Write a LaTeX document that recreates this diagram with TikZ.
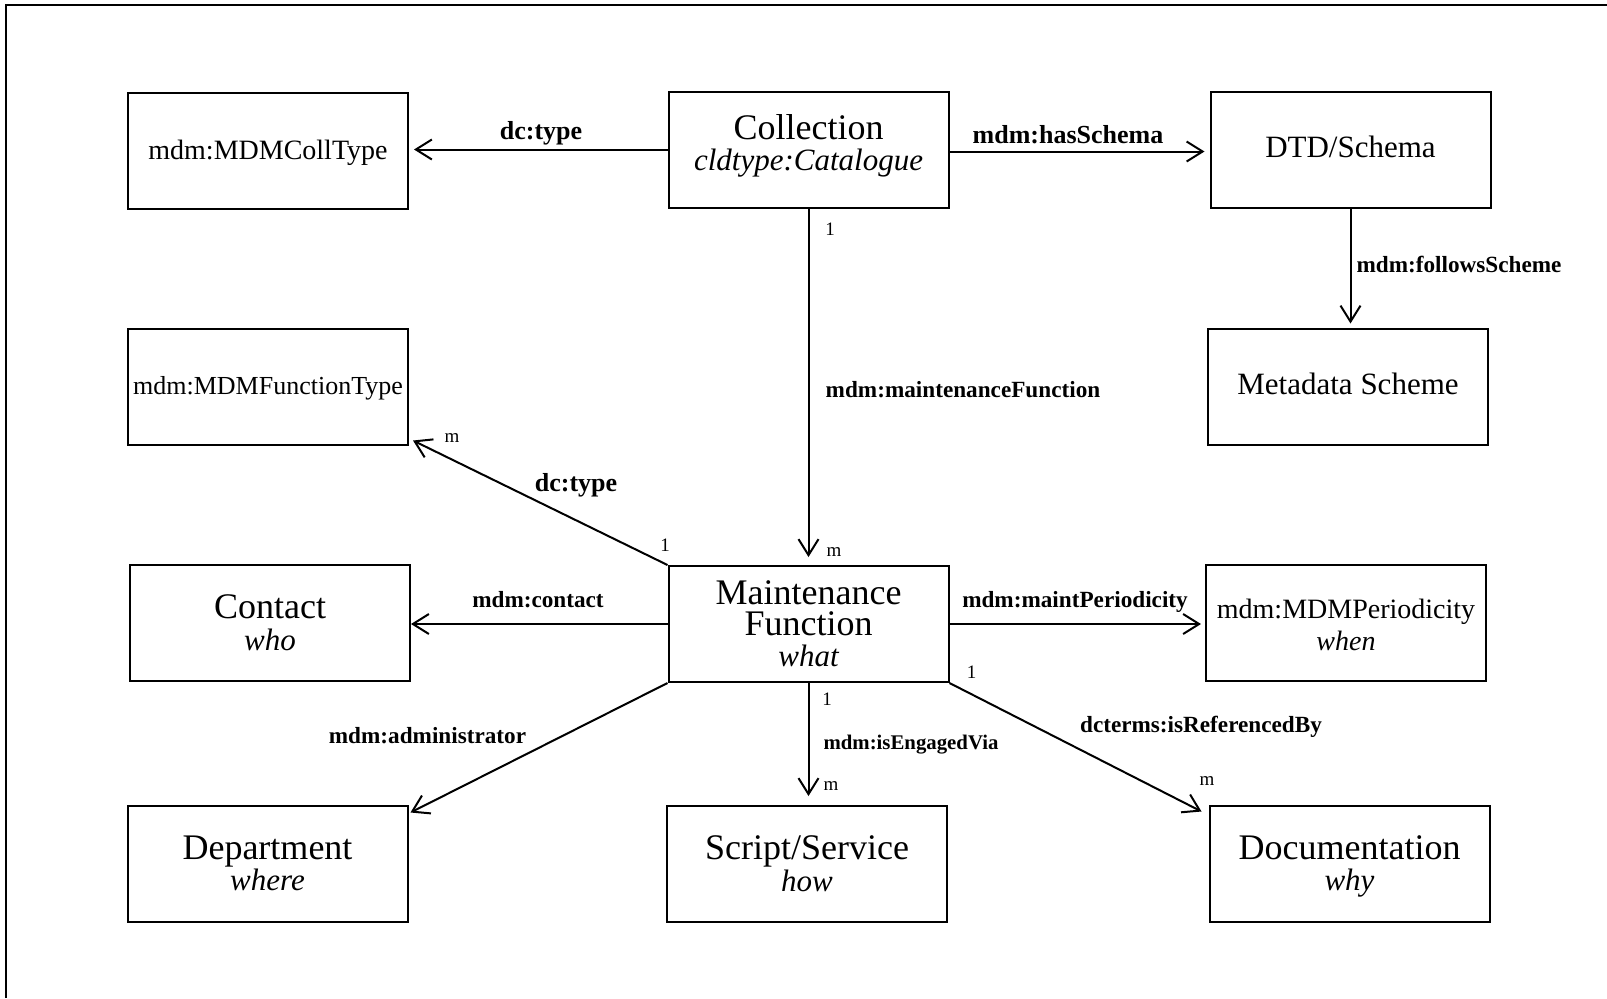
\documentclass[tikz,border=0pt]{standalone}
\usepackage{fontspec}
\setmainfont{Liberation Serif}
\usetikzlibrary{arrows.meta}
\newcommand\topstrut{\rule{0pt}{16.7pt}}
\newcommand\botstrut{\rule[-5.2pt]{0pt}{0pt}}
\newcommand\boxfont{\fontsize{18pt}{15.7pt}\selectfont\lineskiplimit=-100pt\relax}
\newcommand\mtitle{\fontsize{18pt}{15.7pt}\selectfont\topstrut}
\newcommand\mmid{\fontsize{18pt}{15.7pt}\selectfont}
\newcommand\msub{\fontsize{15.5pt}{15.7pt}\selectfont\itshape\botstrut}
\begin{document}
\begin{tikzpicture}[x=0.5pt,y=-0.5pt,
  box/.style={draw,line width=1pt,minimum width=140pt,minimum height=58pt,inner sep=1pt,align=center,font=\boxfont},
  arr/.style={line width=1pt,-{Straight Barb[length=8pt,width=10pt,line width=1pt]}},
  lab/.style={font=\bfseries\fontsize{11.6pt}{13pt}\selectfont,inner sep=0pt},
  biglab/.style={font=\bfseries\fontsize{13pt}{15pt}\selectfont,inner sep=0pt},
  mult/.style={font=\fontsize{9.5pt}{11pt}\selectfont,inner sep=0pt}]
\useasboundingbox (0,0) rectangle (1607,998);
\draw[line width=1.1pt] (6,998) -- (6,5) -- (1607,5);
% boxes
\node[box,font=\fontsize{14pt}{16pt}\selectfont,text height=10pt,text depth=1.4pt] (CT) at (268,150.5) {mdm:MDMCollType};
\node[box] (COL) at (808.5,149.5) {\mtitle Collection\\\msub cldtype:Catalogue\rule[-11.2pt]{0pt}{1pt}};
\node[box,font=\fontsize{15.5pt}{16pt}\selectfont,text height=9pt,text depth=1.5pt] (DTD) at (1350.5,150) {DTD/Schema};
\node[box,font=\fontsize{13pt}{16pt}\selectfont,text height=9.5pt,text depth=1.4pt] (FT) at (268,386.5) {mdm:MDMFunctionType};
\node[box,font=\fontsize{15.5pt}{16pt}\selectfont,text height=10pt,text depth=1.6pt] (MS) at (1348,386.5) {Metadata Scheme};
\node[box] (CON) at (270,623) {\mtitle Contact\\\msub who};
\node[box] (MF) at (808.5,624) {\mtitle Maintenance\\\mmid Function\\\msub what};
\node[box] (PER) at (1346,623) {\fontsize{14pt}{15.7pt}\selectfont\topstrut mdm:MDMPeriodicity\\\fontsize{14pt}{15.7pt}\selectfont\itshape\botstrut when};
\node[box] (DEP) at (267.5,863.5) {\mtitle Department\\\msub where};
\node[box] (SS) at (807,864) {\mtitle Script/Service\\\msub how};
\node[box] (DOC) at (1349.5,863.5) {\mtitle Documentation\\\msub why};
% connectors
\draw[arr,shorten >=2.5pt] (COL.west) -- (COL.west -| CT.east);
\draw[arr,shorten >=2.5pt] ([yshift=-1pt]COL.east) -- ([yshift=-1pt]COL.east -| DTD.west);
\draw[arr,shorten >=4pt] (COL.south) -- (COL.south |- MF.north);
\draw[arr,shorten >=2pt] (DTD.south) -- (DTD.south |- MS.north);
\draw[arr] (MF.north west) -- ([xshift=2pt,yshift=2.5pt]FT.south east);
\draw[arr] (MF.west) -- (MF.west -| CON.east);
\draw[arr,shorten >=2pt] (MF.east) -- (MF.east -| PER.west);
\draw[arr] (MF.south west) -- ([xshift=1pt,yshift=-4pt]DEP.north east);
\draw[arr,shorten >=4.5pt] (MF.south) -- (MF.south |- SS.north);
\draw[arr] (MF.south east) -- ([xshift=-3.5pt,yshift=-3.5pt]DOC.north west);
% labels
\node[biglab] (l1) at (541,133) {dc:type};
\node[biglab] (l2) at (1068,135) {mdm:hasSchema};
\node[lab] (l3) at (963,389.5) {mdm:maintenanceFunction};
\node[lab] (l4) at (1459,264.5) {mdm:followsScheme};
\node[biglab] (l5) at (576,485) {dc:type};
\node[lab] (l6) at (538,600) {mdm:contact};
\node[lab] (l7) at (1075,602) {mdm:maintPeriodicity};
\node[lab] (l8) at (427.5,736) {mdm:administrator};
\node[lab,font=\bfseries\fontsize{10.4pt}{12pt}\selectfont] (l9) at (911,745) {mdm:isEngagedVia};
\node[lab] (l10) at (1201,727) {dcterms:isReferencedBy};
% multiplicities
\node[mult] (m1) at (830,229.6) {1};
\node[mult] (m2) at (834,552.4) {m};
\node[mult] (m3) at (452,438) {m};
\node[mult] (m4) at (665,545) {1};
\node[mult] (m5) at (827,699) {1};
\node[mult] (m6) at (831,786) {m};
\node[mult] (m7) at (971.6,672) {1};
\node[mult] (m8) at (1207,781) {m};
\end{tikzpicture}
\end{document}
